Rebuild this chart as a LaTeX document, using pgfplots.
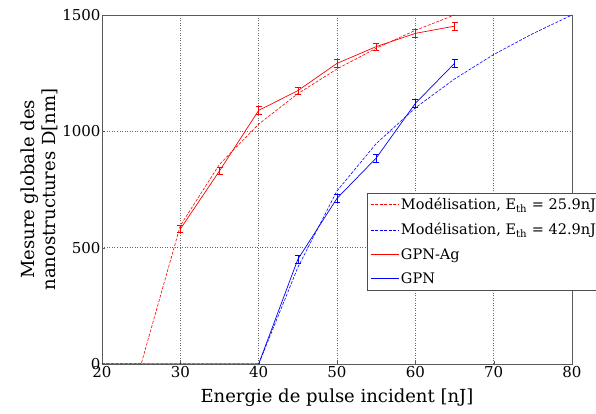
\documentclass[border=0pt]{standalone}
\usepackage{fontspec}
\setmainfont{DejaVu Serif}
\usepackage{pgfplots}
\pgfplotsset{compat=1.18}

\begin{document}
\begin{tikzpicture}
\begin{axis}[
    scale only axis,
    width=470pt, height=349pt,
    xmin=20, xmax=80, ymin=0, ymax=1500,
    xtick={20,30,...,80}, ytick={0,500,1000,1500},
    grid=major,
    grid style={gray!80!black, dash pattern=on 1pt off 1.5pt},
    axis line style={gray!70!black},
    tick style={gray!70!black},
    tick pos=left, major tick length=3pt,
    tick label style={font=\fontsize{15}{17}\selectfont},
    /pgf/number format/assume math mode=true,
    /pgf/number format/1000 sep={},
    xticklabel style={yshift=1pt},
    yticklabel style={xshift=2pt},
    xlabel={Energie de pulse incident [nJ]},
    ylabel={Mesure globale des\\nanostructures D[nm]},
    ylabel style={align=center, yshift=-2pt},
    xlabel style={yshift=-4pt},
    label style={font=\fontsize{18}{21}\selectfont},
    legend style={at={(0.564,0.49)}, anchor=north west, overlay,
        font=\fontsize{14.5}{17}\selectfont, draw=gray!60!black,
        cells={anchor=west}, row sep=8pt, inner sep=3pt},
    legend image code/.code={\draw[#1] (0pt,0pt) -- (28pt,0pt);},
]
% modelisation E_th = 25.9 nJ
\addplot[red, line width=0.6pt, dash pattern=on 3pt off 1.5pt] coordinates {
  (20,0) (25,0) (30,595) (35,858) (40,1031) (45,1162) (50,1268) (55,1357) (60,1434) (65,1500)};
% modelisation E_th = 42.9 nJ
\addplot[blue, line width=0.6pt, dash pattern=on 3pt off 1.5pt] coordinates {
  (20,0) (40,0) (45,415) (50,744) (55,947) (60,1101) (65,1225) (70,1330) (75,1420) (80,1500)};
% GPN-Ag
\addplot[red, line width=0.7pt, mark=none,
    error bars/.cd, y dir=both, y fixed=16,
    error mark options={rotate=90, mark size=3pt, line width=0.7pt}] coordinates {
  (30,580) (35,830) (40,1090) (45,1175) (50,1292) (55,1364) (60,1421) (65,1452)};
% GPN
\addplot[blue, line width=0.7pt, mark=none,
    error bars/.cd, y dir=both, y fixed=18,
    error mark options={rotate=90, mark size=3pt, line width=0.7pt}] coordinates {
  (45,450) (50,712) (55,885) (60,1120) (65,1292)};
\addplot[blue, line width=0.7pt, forget plot] coordinates {(20,0) (40,0) (45,450)};
\legend{{Mod\'elisation, E\textsubscript{th} = 25.9nJ},
        {Mod\'elisation, E\textsubscript{th} = 42.9nJ},
        {GPN-Ag}, {GPN}}
\end{axis}
\pgfresetboundingbox
\path (current axis.south west) +(-102pt,-50pt) (current axis.north east) +(24pt,15pt);
\end{tikzpicture}
\end{document}
